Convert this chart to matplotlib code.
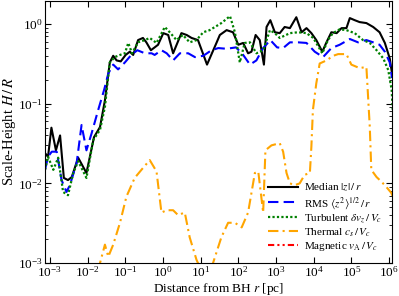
import numpy as np
import matplotlib
matplotlib.use('Agg')
import matplotlib.pyplot as plt

# log10(r/pc) and H/R
med_logr = [-3.13, -3.05, -2.96, -2.84, -2.73, -2.63, -2.52, -2.42, -2.25, -2.03, -1.83, -1.67,
            -1.54, -1.41, -1.32, -1.23, -1.12, -0.99, -0.88, -0.79, -0.66, -0.53, -0.44, -0.32,
            -0.22, -0.13, 0.01, 0.14, 0.27, 0.49, 0.63, 0.76, 0.93, 1.17, 1.42, 1.51, 1.69, 1.86,
            2.00, 2.13, 2.26, 2.35, 2.46, 2.57, 2.68, 2.75, 2.85, 2.97, 3.10, 3.23, 3.37, 3.54,
            3.68, 3.81, 3.94, 4.07, 4.23, 4.34, 4.47, 4.61, 4.74, 4.87, 4.96, 5.09, 5.22, 5.40,
            5.58, 5.75, 5.89, 6.02, 6.08]
med_h = [0.024, 0.0215, 0.050, 0.026, 0.040, 0.0117, 0.011, 0.012, 0.021, 0.0135, 0.038, 0.051,
         0.11, 0.33, 0.40, 0.35, 0.34, 0.41, 0.45, 0.41, 0.63, 0.67, 0.59, 0.47,
         0.51, 0.55, 0.77, 0.73, 0.43, 0.77, 0.73, 0.67, 0.63, 0.31, 0.58, 0.73, 0.84, 0.79,
         0.55, 0.58, 0.43, 0.45, 0.73, 0.63, 0.31, 0.92, 1.12, 0.79, 0.77, 0.92, 0.89, 1.22,
         0.79, 0.89, 0.77, 0.63, 0.45, 0.59, 0.79, 0.77, 0.89, 0.89, 1.19, 1.12, 1.06, 1.03,
         0.92, 0.79, 0.58, 0.37, 0.24]

rms_logr = [-3.13, -3.05, -2.95, -2.82, -2.69, -2.56, -2.47, -2.29, -2.16, -2.03, -1.89, -1.72,
            -1.56, -1.45, -1.32, -1.19, -1.01, -0.84, -0.68, -0.48, -0.30, -0.22, -0.04, 0.10,
            0.27, 0.45, 0.67, 0.85, 1.07, 1.29, 1.47, 1.69, 1.94, 2.13, 2.31, 2.48, 2.66, 2.85,
            3.03, 3.19, 3.37, 3.59, 3.81, 4.03, 4.25, 4.47, 4.69, 4.96, 5.18, 5.40, 5.58, 5.75,
            5.89, 6.02, 6.08]
rms_h = [0.0148, 0.0216, 0.025, 0.025, 0.011, 0.0078, 0.0095, 0.018, 0.054, 0.026, 0.043, 0.083,
         0.15, 0.24, 0.31, 0.27, 0.33, 0.41, 0.47, 0.43, 0.43, 0.41, 0.47, 0.43,
         0.35, 0.43, 0.43, 0.385, 0.40, 0.47, 0.50, 0.49, 0.51, 0.41, 0.31, 0.35, 0.50, 0.63,
         0.51, 0.50, 0.59, 0.59, 0.58, 0.45, 0.385, 0.50, 0.55, 0.65, 0.59, 0.63, 0.59, 0.55,
         0.45, 0.33, 0.21]

turb_logr = [-3.13, -3.05, -2.91, -2.78, -2.65, -2.52, -2.38, -2.25, -2.03, -1.85, -1.67, -1.54,
             -1.41, -1.28, -1.14, -1.01, -0.92, -0.82, -0.66, -0.48, -0.35, -0.17, 0.05, 0.18,
             0.36, 0.53, 0.71, 0.89, 1.07, 1.24, 1.38, 1.55, 1.78, 1.91, 2.04, 2.17, 2.31, 2.48,
             2.66, 2.84, 2.97, 3.10, 3.37, 3.59, 3.81, 3.99, 4.23, 4.38, 4.51, 4.69, 4.87, 5.09,
             5.31, 5.49, 5.67, 5.85, 5.98, 6.07, 6.10]
turb_h = [0.0148, 0.0216, 0.0148, 0.021, 0.0078, 0.0071, 0.0135, 0.019, 0.0117, 0.035, 0.047, 0.091,
          0.33, 0.385, 0.41, 0.43, 0.58, 0.43, 0.59, 0.63, 0.67, 0.58, 0.92, 0.79,
          0.63, 0.73, 0.59, 0.63, 0.79, 0.84, 0.92, 1.03, 1.26, 0.79, 0.33, 0.58, 0.59, 0.43,
          0.47, 0.84, 0.77, 0.67, 0.77, 0.79, 0.77, 0.67, 0.43, 0.63, 0.77, 0.86, 0.84, 0.77,
          0.63, 0.58, 0.47, 0.37, 0.265, 0.15, 0.08]

therm_logr = [-1.72, -1.67, -1.54, -1.45, -1.32, -1.14, -0.97, -0.75, -0.53, -0.35, -0.17, -0.04,
              0.10, 0.27, 0.40, 0.58, 0.71, 0.89, 1.02, 1.20, 1.33, 1.55, 1.73, 1.91, 2.09, 2.26,
              2.44, 2.53, 2.66, 2.72, 2.88, 3.10, 3.19, 3.28, 3.37, 3.50, 3.63, 3.76, 3.90, 3.94,
              3.98, 4.07, 4.16, 4.34, 4.52, 4.65, 4.87, 5.00, 5.22, 5.40, 5.49, 5.53, 5.67, 5.80,
              5.93, 6.06, 6.15]
therm_h = [0.0008, 0.001, 0.0017, 0.0012, 0.0017, 0.0032, 0.0068, 0.0117, 0.0156, 0.0196, 0.0141, 0.0043,
           0.0046, 0.0046, 0.0040, 0.0043, 0.0021, 0.0011, 0.0008, 0.0006, 0.001, 0.0021, 0.0032, 0.0032,
           0.0028, 0.0043, 0.0135, 0.0141, 0.0043, 0.026, 0.030, 0.032, 0.025, 0.0135, 0.010, 0.0095,
           0.010, 0.0128, 0.0135, 0.029, 0.083, 0.18, 0.32, 0.35, 0.40, 0.42, 0.42, 0.31, 0.28, 0.29,
           0.051, 0.0148, 0.012, 0.0105, 0.009, 0.0076, 0.006]

# magnetic term sits below the plotted range everywhere
mag_logr = []
mag_h = []

plt.rcParams['font.family'] = 'serif'
plt.rcParams['font.serif'] = ['Liberation Serif', 'DejaVu Serif']
plt.rcParams['mathtext.fontset'] = 'stix'

fig = plt.figure(figsize=(3.99, 2.96), dpi=100)
ax = fig.add_axes([0.1128, 0.1115, 0.8697, 0.8851])

ax.plot(10**np.array(med_logr), med_h, color='black', lw=1.5, ls='-', label=r'Median $|z|\,/\,r$')
ax.plot(10**np.array(rms_logr), rms_h, color='blue', lw=1.5, ls=(0, (5, 2.5)),
        label=r'RMS $\langle z^2\rangle^{1/2}\,/\,r$')
ax.plot(10**np.array(turb_logr), turb_h, color='green', lw=1.6, ls=(0, (1, 1)),
        label=r'Turbulent $\delta v_z\,/\,V_c$')
ax.plot(10**np.array(therm_logr), therm_h, color='orange', lw=1.5, ls=(0, (5, 2, 1, 2)),
        label=r'Thermal $c_s\,/\,V_c$')
ax.plot(10**np.array(mag_logr, dtype=float), np.array(mag_h, dtype=float), color='red', lw=1.5,
        ls=(0, (3, 1.5, 1, 1.5, 1, 1.5)), label=r'Magnetic $v_{\rm A}\,/\,V_c$')

ax.set_xscale('log')
ax.set_yscale('log')
ax.set_xlim(10**-3.13, 10**6.08)
ax.set_ylim(1e-3, 1.95)
ax.set_xticks([1e-3, 1e-2, 1e-1, 1e0, 1e1, 1e2, 1e3, 1e4, 1e5, 1e6])
ax.tick_params(which='both', direction='in', top=True, right=True, labelsize=9.5)
ax.tick_params(which='major', length=4, pad=1.5)
ax.tick_params(which='minor', length=2)
ax.set_xlabel(r'Distance from BH $r$ [pc]', fontsize=9.5)
ax.xaxis.set_label_coords(0.5, -0.07)
ax.set_ylabel(r'Scale-Height $H\,/\,R$', fontsize=10.5, labelpad=0)

ax.legend(loc='lower right', frameon=False, fontsize=8, handlelength=2.7,
          labelspacing=0.12, borderaxespad=0.5, handletextpad=0.5)

fig.savefig('out.png', dpi=100)
